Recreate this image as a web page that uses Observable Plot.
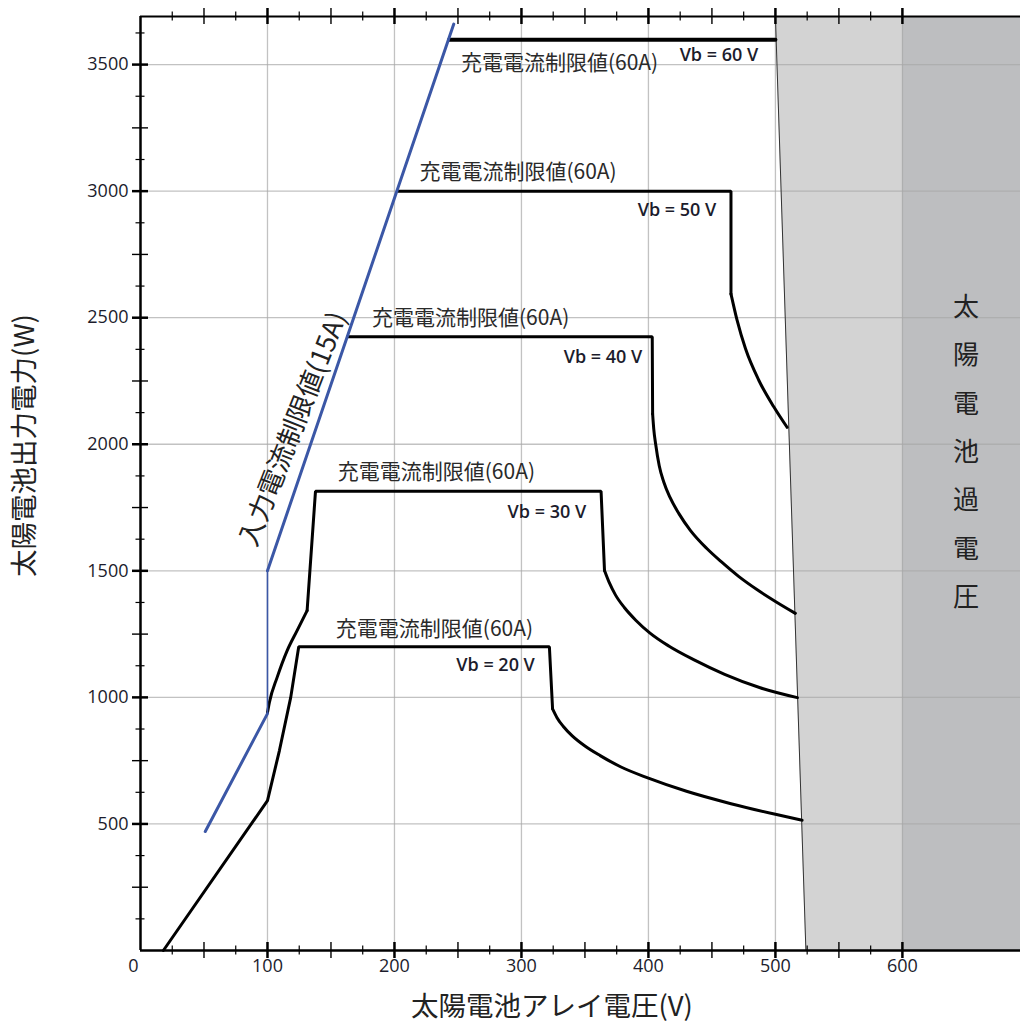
<!DOCTYPE html>
<html><head><meta charset="utf-8">
<script src="https://cdn.jsdelivr.net/npm/d3@7"></script>
<script src="https://cdn.jsdelivr.net/npm/@observablehq/plot@0.6"></script>
<style>body{margin:0;background:#fff} svg{display:block;background:#fff}</style>
</head><body><div id="chart"></div>
<script>
// ---- data (array voltage V, output power W) ----
const vb20Line = [[18,0],[100,592],[109.4,790],[118.3,1000],[124.6,1200],[322,1200],[324.5,955]];
const vb20Tail = [[324.5,955],[328,920],[333,885],[340,848],[350,808],[362,770],[378,726],[400,681],[430,629],[465,580],[500,538],[521,515]];
const vb30Head = [[100,940],[101.5,980],[107.6,1079],[115.5,1185],[123.3,1264],[131.2,1343]];
const vb30Line = [[131.2,1343],[137.8,1814],[362.7,1814],[365.4,1501]];
const vb30Tail = [[365.4,1501],[369,1455],[374,1405],[381,1355],[390,1305],[401,1255],[416,1203],[436,1148],[460,1091],[488,1038],[517.3,999]];
const vb40Line = [[163,2425],[403,2425],[403.3,2120]];
const vb40Tail = [[403.3,2120],[404.2,2060],[405.7,2000],[408.5,1915],[412,1852],[417,1790],[424,1726],[433,1660],[446,1588],[458,1533],[471,1478],[486,1424],[500,1379],[515.7,1332]];
const vb50Line = [[202.4,3000],[465,3000],[465,2594]];
const vb50Tail = [[465,2594],[469.8,2490],[476.4,2378],[486.9,2253],[498.7,2148],[509.2,2067]];
const vb60Line = [[243,3598],[500,3598]];
const inputLower = [[51,470],[100,936]];
const inputVertical = [[100,936],[100,1500]];
const inputUpper = [[100,1500],[246.7,3660]];

const overLight = [{y:0, x1:524, x2:600},{y:3690, x1:500, x2:600}];
const overEdge = [[524,0],[500,3690]];
const overDark = [{x1:600, x2:693, y1:0, y2:3690}];

const vbLabels = ["Vb = 20 V","Vb = 30 V","Vb = 40 V","Vb = 50 V","Vb = 60 V"];
const vbLabelAt = [[279.6,1126],[320,1732],[364.2,2345],[422.5,2923],[455.5,3536]];
const limitLabel = "充電電流制限値(60A)";
const limitLabelAt = [[231.5,1268],[233,1890],[260,2497],[297.3,3074],[330,3506]];
const inputLabel = "入力電流制限値(15A)";
const inputLabelAt = [120.5,2060];
const overLabel = "太陽電池過電圧";
const overLabelAt = [650,1995];

const xTickLabels = [100,200,300,400,500,600];
const yTickLabels = [500,1000,1500,2000,2500,3000,3500];
const xTitle = "太陽電池アレイ電圧(V)";
const yTitle = "太陽電池出力電力(W)";

// ---- build ----
const toRows = (arr, series) => arr.map(([v,p]) => ({v, p, series}));
const straight = [
  ...toRows(vb20Line,"20"), ...toRows(vb30Line,"30"), ...toRows(vb40Line,"40"), ...toRows(vb50Line,"50")
];
const curved = [
  ...toRows(vb20Tail,"20"), ...toRows(vb30Head,"30h"), ...toRows(vb30Tail,"30"), ...toRows(vb40Tail,"40"), ...toRows(vb50Tail,"50")
];
const H = 934, W = 880;
const xMinor = d3.range(25, 600, 50), xMid = d3.range(50, 600, 100);
const yMinor = d3.range(125, 3690, 250), yMid = d3.range(250, 3500, 500);
const cjk = "Noto Sans CJK JP";
const latin = "Open Sans";

const xt = (vals, len, sw, top) => Plot.tickX(vals, {x: d=>d, stroke:"#000", strokeWidth: sw,
  insetTop: top ? -len : H - len, insetBottom: top ? H - len : -len});
const yt = (vals, len, sw) => Plot.tickY(vals, {y: d=>d, stroke:"#000", strokeWidth: sw,
  insetLeft: -len, insetRight: W - len});

const chart = Plot.plot({
  width: 1020, height: 1032,
  marginLeft: 140, marginRight: 0, marginTop: 16, marginBottom: 82,
  x: {domain: [0, 693], axis: null},
  y: {domain: [0, 3690], axis: null},
  style: {fontFamily: latin, background: "#fff"},
  marks: [
    Plot.areaX(overLight, {y: "y", x1: "x1", x2: "x2", fill: "#d3d3d3"}),
    Plot.rect(overDark, {x1: "x1", x2: "x2", y1: "y1", y2: "y2", fill: "#bdbec0"}),
    Plot.ruleX(xTickLabels, {stroke: "#a8a8a8", strokeOpacity: 0.7, strokeWidth: 1.3}),
    Plot.ruleY(yTickLabels, {stroke: "#a8a8a8", strokeOpacity: 0.7, strokeWidth: 1.3}),
    Plot.line(overEdge, {x: d=>d[0], y: d=>d[1], stroke: "#333", strokeWidth: 1}),
    Plot.text([overLabel.split("").join("\n")], {x: () => overLabelAt[0], y: () => overLabelAt[1],
      fontFamily: cjk, fontSize: 26, lineHeight: 1.86, fill: "#222", lineAnchor: "middle"}),
    // Vb curves
    Plot.line(straight, {x: "v", y: "p", z: "series", stroke: "#000", strokeWidth: 3, strokeLinejoin: "miter"}),
    Plot.line(curved, {x: "v", y: "p", z: "series", stroke: "#000", strokeWidth: 3, curve: "monotone-x"}),
    Plot.line(vb60Line, {x: d=>d[0], y: d=>d[1], stroke: "#000", strokeWidth: 4}),
    // input current limit
    Plot.line(inputLower, {x: d=>d[0], y: d=>d[1], stroke: "#3b57a6", strokeWidth: 3}),
    Plot.line(inputVertical, {x: d=>d[0], y: d=>d[1], stroke: "#3b57a6", strokeWidth: 1.6}),
    Plot.line(inputUpper, {x: d=>d[0], y: d=>d[1], stroke: "#3b57a6", strokeWidth: 3}),
    // labels
    Plot.text(limitLabelAt, {x: d=>d[0], y: d=>d[1], text: () => limitLabel, fontFamily: cjk, fontSize: 21, fill: "#2a2a2a"}),
    Plot.text(vbLabelAt, {x: d=>d[0], y: d=>d[1], text: (d,i) => vbLabels[i], fontFamily: latin, fontWeight: 600, fontSize: 18, fill: "#1c1c2c"}),
    Plot.text([inputLabel], {x: () => inputLabelAt[0], y: () => inputLabelAt[1], rotate: -68.5,
      fontFamily: cjk, fontSize: 26.5, fill: "#222"}),
    // axes lines
    Plot.ruleY([0], {stroke: "#000", strokeWidth: 2.5}),
    Plot.ruleY([3690], {stroke: "#000", strokeWidth: 2}),
    Plot.ruleX([0], {stroke: "#000", strokeWidth: 2.5}),
    // ticks
    xt(xMinor, 4.5, 1.2, false), xt(xMid, 8, 1.4, false), xt(xTickLabels, 8, 2.5, false),
    xt(xMinor, 4.5, 1.2, true), xt(xMid, 8, 1.4, true), xt(xTickLabels, 8, 2.5, true),
    yt(yMinor, 4.5, 1.2), yt(yMid, 8, 1.4), yt(yTickLabels, 8, 2.5),
    // tick labels
    Plot.text(xTickLabels, {x: d=>d, y: 0, dy: 16, text: d=>String(d), fontSize: 18, fill: "#1c1c2c"}),
    Plot.text(yTickLabels, {x: 0, y: d=>d, dx: -12, text: d=>String(d), textAnchor: "end", fontSize: 18, fill: "#1c1c2c"}),
    Plot.text(["0"], {x: 0, y: 0, dx: -7, dy: 16, fontSize: 18, fill: "#1c1c2c"}),
    // titles
    Plot.text([xTitle], {x: () => 324, frameAnchor: "bottom", dy: 65, fontFamily: cjk, fontSize: 27.5, fill: "#222"}),
    Plot.text([yTitle], {y: () => 1995, frameAnchor: "left", dx: -115, rotate: -90, textAnchor: "middle",
      fontFamily: cjk, fontSize: 27.5, fill: "#222"})
  ]
});
document.getElementById("chart").appendChild(chart);
</script>
</body></html>
